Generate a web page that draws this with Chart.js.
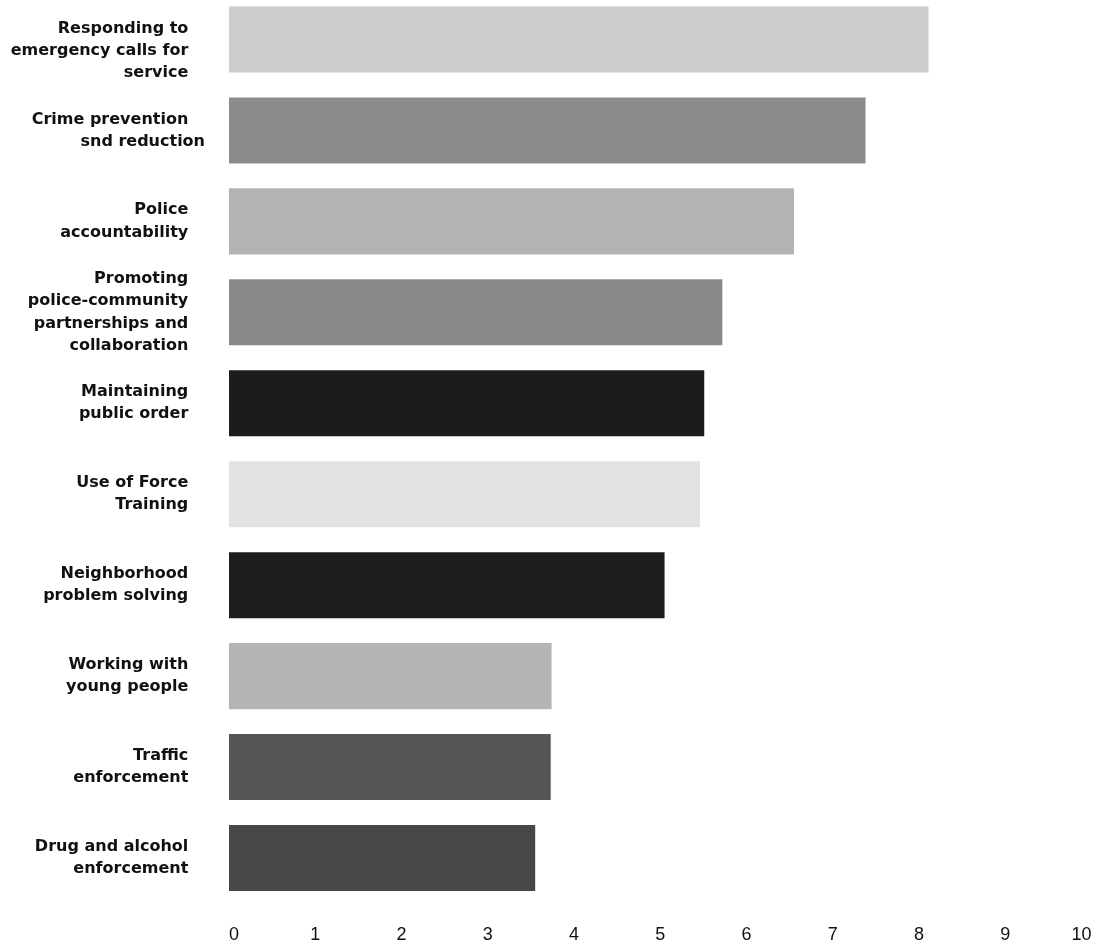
<!DOCTYPE html>
<html>
<head>
<meta charset="utf-8">
<script src="https://cdn.jsdelivr.net/npm/chart.js@4/dist/chart.umd.min.js"></script>
<style>
  html, body { margin: 0; padding: 0; background: #ffffff; overflow: hidden; }
  #wrap { position: relative; width: 1100px; height: 947px; overflow: hidden; }
  #c { position: absolute; left: 0; top: -6px; }
</style>
</head>
<body>
<div id="wrap"><canvas id="c" width="1100" height="953"></canvas></div>
<script>
// ---- data ----
const categories = [
  ["", "Responding to", "emergency calls for", "service"],
  ["Crime prevention", "snd reduction"],
  ["Police", "accountability"],
  ["Promoting", "police-community", "partnerships and", "collaboration"],
  ["Maintaining", "public order"],
  ["Use of Force", "Training"],
  ["Neighborhood", "problem solving"],
  ["Working with", "young people"],
  ["Traffic", "enforcement"],
  ["Drug and alcohol", "enforcement"]
];
const values = [8.11, 7.38, 6.55, 5.72, 5.51, 5.46, 5.05, 3.74, 3.73, 3.55];
const barColors = ["#cdcdcd", "#8b8b8b", "#b3b3b3", "#8a8a8a", "#1c1c1c",
                   "#e2e2e2", "#1e1e1e", "#b4b4b4", "#555555", "#474747"];
const xTicks = ["0","1","2","3","4","5","6","7","8","9","10"];
const outdentLine = "snd reduction";

// lines other than the outdented one end a little further left
const PAD = "\u00A0\u00A0\u00A0";
const displayLabels = categories.map(lines =>
  lines.map(l => (l === "" || l === outdentLine) ? l : l + PAD));

new Chart(document.getElementById('c'), {
  type: 'bar',
  data: {
    labels: displayLabels,
    datasets: [{
      data: values,
      backgroundColor: barColors,
      borderWidth: 0,
      barPercentage: 0.726,
      categoryPercentage: 1.0
    }]
  },
  options: {
    indexAxis: 'y',
    responsive: false,
    animation: false,
    layout: { padding: { top: 0, right: 8.5, bottom: -19.5, left: 0 } },
    plugins: { legend: { display: false }, tooltip: { enabled: false } },
    scales: {
      x: {
        min: 0, max: 10,
        grid: { display: false, drawTicks: false },
        border: { display: false },
        afterFit: (s) => { s.paddingLeft = 0; s.paddingRight = 0; },
        ticks: {
          stepSize: 1,
          align: 'inner',
          padding: 20.7,
          maxRotation: 0,
          color: '#111111',
          font: { family: 'Liberation Sans', size: 18 },
          callback: (v, i) => xTicks[i]
        }
      },
      y: {
        grid: { display: false, drawTicks: false },
        border: { display: false },
        afterFit: (s) => { s.width = 229; s.paddingTop = 0; s.paddingBottom = 0; },
        ticks: {
          autoSkip: false,
          padding: 24,
          color: '#111111',
          font: { family: 'DejaVu Sans', size: 16, weight: 'bold', lineHeight: 1.38 }
        }
      }
    }
  }
});
</script>
</body>
</html>
